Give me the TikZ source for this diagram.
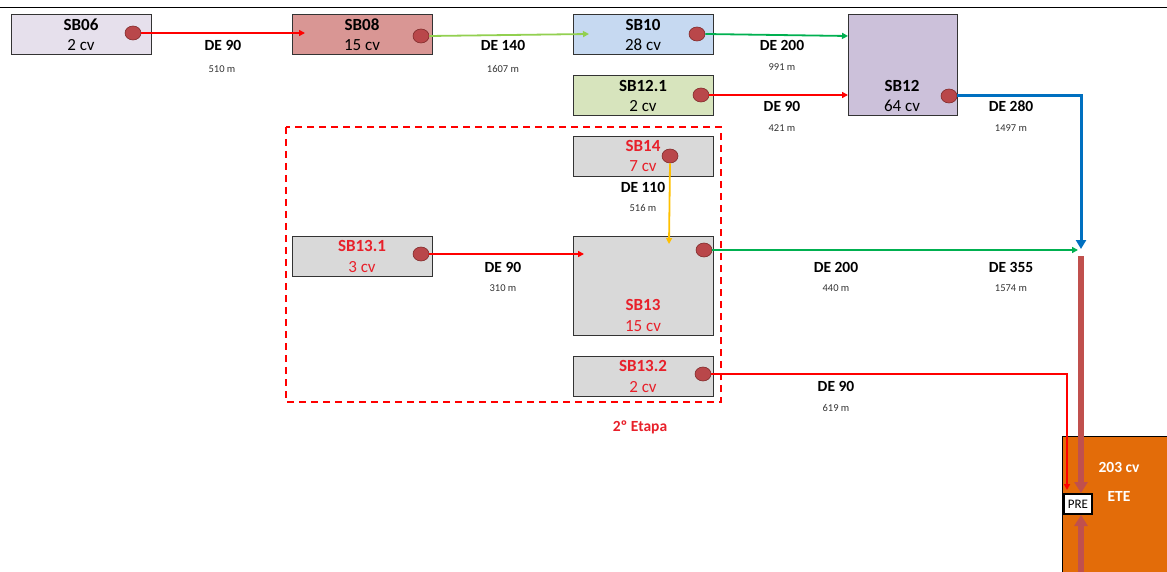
\documentclass[tikz,border=0pt]{standalone}
\usepackage{fontspec}
\setmainfont{Carlito}
\usetikzlibrary{arrows.meta,shapes.geometric}
\definecolor{cLav}{HTML}{E6E0EC}
\definecolor{cSal}{HTML}{D99694}
\definecolor{cBlue}{HTML}{C6D9F1}
\definecolor{cOlive}{HTML}{D7E4BD}
\definecolor{cPurp}{HTML}{CCC1DA}
\definecolor{cGray}{HTML}{D9D9D9}
\definecolor{cDot}{HTML}{B9474A}
\definecolor{cDotB}{HTML}{7F2A2A}
\definecolor{cRed}{HTML}{FF0000}
\definecolor{cLGreen}{HTML}{92D050}
\definecolor{cGreen}{HTML}{00B050}
\definecolor{cPipe}{HTML}{0070C0}
\definecolor{cYel}{HTML}{FFC000}
\definecolor{cBrown}{HTML}{C0504D}
\definecolor{cOrange}{HTML}{E36C09}
\definecolor{cTxtRed}{HTML}{E8202A}
\tikzset{
  x=1pt,y=-1pt,
  sbox/.style={draw=black!80,line width=1pt,minimum width=140pt,minimum height=40pt,inner sep=0pt},
  dot/.style={ellipse,draw=cDotB,fill=cDot,line width=0.6pt,minimum width=16pt,minimum height=14pt,inner sep=0pt},
  ttl/.style={font=\fontsize{17}{17}\selectfont\bfseries},
  sub/.style={font=\fontsize{17}{17}\selectfont},
  lbl/.style={font=\fontsize{15.5}{15.5}\selectfont\bfseries},
  dist/.style={font=\fontsize{10.5}{10.5}\selectfont,text=black!80},
  pipe/.style={line width=1.8pt,-{Triangle[length=6pt,width=6pt]}},
}
\begin{document}
\begin{tikzpicture}
\useasboundingbox (0,0) rectangle (1167,572);
\draw[line width=1pt] (0,8) -- (1167,8);

% boxes
\node[sbox,fill=cLav,anchor=north west] (sb06) at (11,14) {};
\node[sbox,fill=cSal,anchor=north west] (sb08) at (292,14) {};
\node[sbox,fill=cBlue,anchor=north west] (sb10) at (573,14) {};
\node[sbox,fill=cOlive,anchor=north west] (sb121) at (573,75) {};
\node[sbox,fill=cPurp,anchor=north west,minimum width=109pt,minimum height=101pt] (sb12) at (848,14) {};
\node[sbox,fill=cGray,anchor=north west] (sb14) at (573,136) {};
\node[sbox,fill=cGray,anchor=north west] (sb131) at (292,236) {};
\node[sbox,fill=cGray,anchor=north west,minimum height=99pt] (sb13) at (573,236) {};
\node[sbox,fill=cGray,anchor=north west] (sb132) at (573,356) {};
\node[draw=black,fill=cOrange,line width=0.8pt,anchor=north west,minimum width=110pt,minimum height=140pt,inner sep=0pt] (ete) at (1062,436) {};

% texts
\node[ttl] (t06) at (81,25) {SB06};
\node[sub] (s06) at (81,45) {2 cv};
\node[ttl] (t08) at (362,25) {SB08};
\node[sub] (s08) at (362,45) {15 cv};
\node[ttl] (t10) at (643,25) {SB10};
\node[sub] (s10) at (643,45) {28 cv};
\node[ttl] (t121) at (643,86) {SB12.1};
\node[sub] (s121) at (643,106) {2 cv};
\node[ttl] (t12) at (902,86) {SB12};
\node[sub] (s12) at (902,106) {64 cv};
\node[ttl,text=cTxtRed] (t14) at (643,146) {SB14};
\node[sub,text=cTxtRed] (s14) at (643,166) {7 cv};
\node[ttl,text=cTxtRed] (t131) at (362,246) {SB13.1};
\node[sub,text=cTxtRed] (s131) at (362,267) {3 cv};
\node[ttl,text=cTxtRed] (t13) at (643,305) {SB13};
\node[sub,text=cTxtRed] (s13) at (643,326) {15 cv};
\node[ttl,text=cTxtRed] (t132) at (643,366) {SB13.2};
\node[sub,text=cTxtRed] (s132) at (643,387) {2 cv};
\node[lbl,text=cTxtRed] (etapa) at (640,427) {2º Etapa};
\node[lbl,text=white] (ecv) at (1119,467) {203 cv};
\node[lbl,text=white] (etet) at (1119,496) {ETE};

% dashed region
\draw[cRed,line width=1.6pt,dash pattern=on 7pt off 5pt] (286,127) rectangle (721,402);

% dots
\node[dot] (d06) at (133,33) {};
\node[dot] (d08) at (421,36) {};
\node[dot] (d10) at (697,34) {};
\node[dot] (d121) at (701,95) {};
\node[dot] (d12) at (949,96) {};
\node[dot] (d14) at (670,156) {};
\node[dot] (d131) at (421,254) {};
\node[dot] (d13) at (704,250) {};
\node[dot] (d132) at (703,374) {};

% endpoints
\coordinate (e08) at (305,33);
\coordinate (e10) at (589,34);
\coordinate (e12a) at (848,36);
\coordinate (e12b) at (848,95);
\coordinate (c12) at (1081,96);
\coordinate (e12c) at (1081,249);
\coordinate (e14) at (669,244);
\coordinate (e131) at (584,254);
\coordinate (e13) at (1078,250);
\coordinate (c132) at (1067,374);
\coordinate (e132) at (1067,490);
\coordinate (btop) at (1081,256);
\coordinate (bbot) at (1081,572);

% pipes
\draw[pipe,cRed] (d06.east) -- (e08);
\draw[pipe,cLGreen] (d08.east) -- (e10);
\draw[pipe,cGreen] (d10.east) -- (e12a);
\draw[pipe,cRed] (d121.east) -- (e12b);
\draw[cPipe,line width=3pt,-{Triangle[length=9pt,width=10pt]}] (d12.east) -- (c12) -- (e12c);
\draw[pipe,cYel] (d14.south) -- (e14);
\draw[pipe,cRed] (d131.east) -- (e131);
\draw[pipe,cGreen] (d13.east) -- (e13);
\draw[pipe,cRed] (d132.east) -- (c132) -- (e132);

% PRE
\node[draw=black,fill=white,line width=2pt,minimum width=28pt,minimum height=20pt,inner sep=0pt,font=\fontsize{13}{13}\selectfont,anchor=north west] (pre) at (1063,493) {PRE};
\draw[cBrown,line width=6pt,-{Triangle[length=11pt,width=13pt]}] (btop) -- (pre.north -| btop);
\draw[cBrown,line width=6pt,-{Triangle[length=11pt,width=13pt]}] (bbot) -- (pre.south -| bbot);

% labels
\node[lbl] (l1) at (223,45) {DE 90};
\node[dist] (m1) at (222,69) {510 m};
\node[lbl] (l2) at (503,45) {DE 140};
\node[dist] (m2) at (503,69) {1607 m};
\node[lbl] (l3) at (782,45) {DE 200};
\node[dist] (m3) at (782,67) {991 m};
\node[lbl] (l4) at (782,106) {DE 90};
\node[dist] (m4) at (782,128) {421 m};
\node[lbl] (l5) at (1011,106) {DE 280};
\node[dist] (m5) at (1011,128) {1497 m};
\node[lbl] (l6) at (643,187) {DE 110};
\node[dist] (m6) at (643,208) {516 m};
\node[lbl] (l7) at (503,267) {DE 90};
\node[dist] (m7) at (503,288) {310 m};
\node[lbl] (l8) at (836,267) {DE 200};
\node[dist] (m8) at (836,288) {440 m};
\node[lbl] (l9) at (1011,267) {DE 355};
\node[dist] (m9) at (1011,288) {1574 m};
\node[lbl] (l10) at (836,386) {DE 90};
\node[dist] (m10) at (836,408) {619 m};
\end{tikzpicture}
\end{document}
